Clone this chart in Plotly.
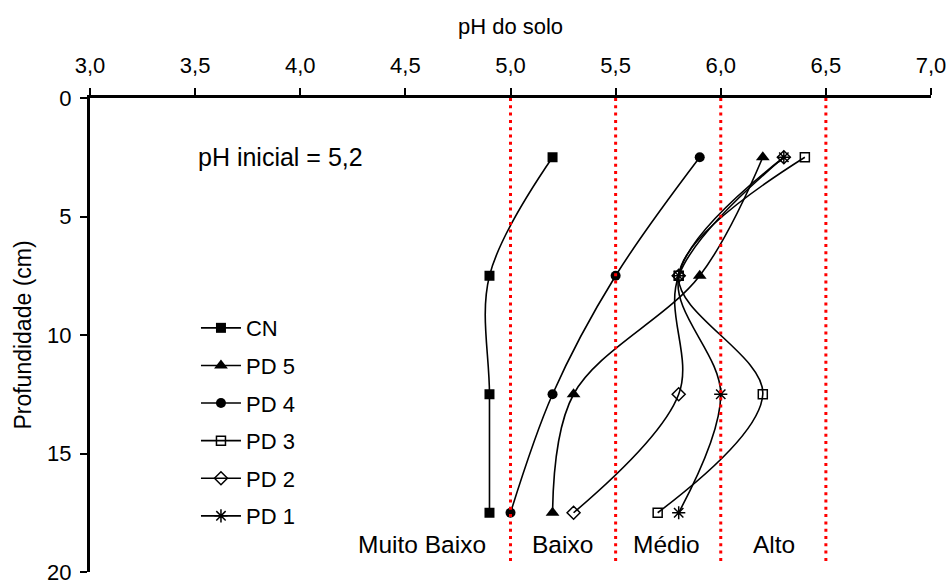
import plotly.graph_objects as go

# Data
depth = [2.5, 7.5, 12.5, 17.5]
series_names = ["CN", "PD 5", "PD 4", "PD 3", "PD 2", "PD 1"]
ph_cn = [5.2, 4.9, 4.9, 4.9]
ph_pd5 = [6.2, 5.9, 5.3, 5.2]
ph_pd4 = [5.9, 5.5, 5.2, 5.0]
ph_pd3 = [6.4, 5.8, 6.2, 5.7]
ph_pd2 = [6.3, 5.8, 5.8, 5.3]
ph_pd1 = [6.3, 5.8, 6.0, 5.8]
limits_x = [5.0, 5.5, 6.0, 6.5]
class_labels = ["Muito Baixo", "Baixo", "Médio", "Alto"]
class_label_x = [4.58, 5.245, 5.744, 6.253]
x_ticks = [3.0, 3.5, 4.0, 4.5, 5.0, 5.5, 6.0, 6.5, 7.0]
y_ticks = [0, 5, 10, 15, 20]

FONT = "Liberation Sans, Arial, sans-serif"

styles = [
    dict(symbol="square", size=10, color="black", line=dict(width=0)),
    dict(symbol="triangle-up", size=12, color="black", line=dict(width=0)),
    dict(symbol="circle", size=10, color="black", line=dict(width=0)),
    dict(symbol="square-open", size=9, color="black", line=dict(width=1.5, color="black")),
    dict(symbol="diamond-open", size=10, color="black", line=dict(width=1.5, color="black")),
    dict(symbol="asterisk-open", size=11, color="black", line=dict(width=1.5, color="black")),
]
values = [ph_cn, ph_pd5, ph_pd4, ph_pd3, ph_pd2, ph_pd1]

fig = go.Figure()
for name, vals, st in zip(series_names, values, styles):
    fig.add_trace(go.Scatter(
        x=vals, y=depth, name=name, mode="lines+markers",
        line=dict(color="black", width=1.6, shape="spline", smoothing=1.0),
        marker=st, legendgroup=name,
    ))

for lx in limits_x:
    fig.add_shape(type="line", xref="x", yref="y", x0=lx, x1=lx, y0=0, y1=19.6,
                  line=dict(color="red", width=3, dash="3px,4.3px"), layer="above")

fig.add_annotation(x=3.904, y=2.5, xref="x", yref="y", text="pH inicial = 5,2",
                   showarrow=False, font=dict(family=FONT, size=25, color="black"))
for lab, lx in zip(class_labels, class_label_x):
    fig.add_annotation(x=lx, y=18.85, xref="x", yref="y", text=lab, showarrow=False,
                       font=dict(family=FONT, size=24.5, color="black"))

fig.update_layout(
    width=948, height=586,
    margin=dict(l=90, r=17, t=98, b=14, autoexpand=False),
    paper_bgcolor="white", plot_bgcolor="white",
    separators=",.",
    font=dict(family=FONT, size=22, color="black"),
    showlegend=True,
    legend=dict(x=0.126, y=0.559, xanchor="left", yanchor="top",
                bgcolor="rgba(0,0,0,0)", tracegroupgap=6,
                font=dict(family=FONT, size=22, color="black"), itemwidth=40),
    xaxis=dict(side="top", range=[3, 7], tickvals=x_ticks, tickformat=".1f",
               showline=True, linecolor="black", linewidth=3, ticks="outside",
               ticklen=7, tickwidth=2, tickcolor="black", showgrid=False, zeroline=False,
               ticklabelstandoff=6, automargin=False,
               title=dict(text="pH do solo", font=dict(family=FONT, size=22), standoff=13),
               tickfont=dict(family=FONT, size=22)),
    yaxis=dict(range=[20, 0], tickvals=y_ticks,
               showline=True, linecolor="black", linewidth=3, ticks="outside",
               ticklen=7, tickwidth=2, tickcolor="black", showgrid=False, zeroline=False,
               ticklabeloverflow="allow", ticklabelstandoff=4, automargin=False,
               title=dict(text="Profundidade (cm)", font=dict(family=FONT, size=23), standoff=10),
               tickfont=dict(family=FONT, size=22)),
)

fig.write_html("out.html")
